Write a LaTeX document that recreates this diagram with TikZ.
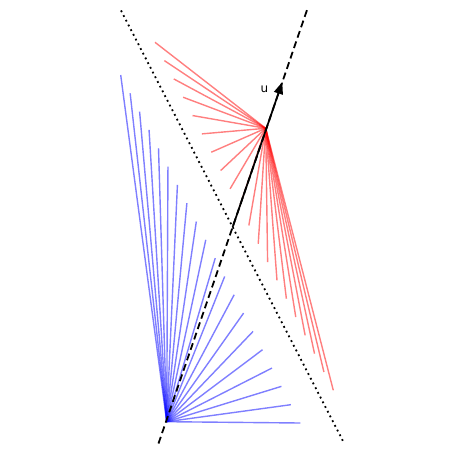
\documentclass[tikz,border=0pt]{standalone}
\usepackage{fontspec}
\setmainfont{DejaVu Sans}
\usetikzlibrary{arrows.meta}
\tikzset{
  bluefan/.style={draw=blue, opacity=0.5, line width=1.4pt},
  redfan/.style={draw=red, opacity=0.5, line width=1.4pt},
  dotline/.style={draw=black, line width=1.8pt, dash pattern=on 1.8pt off 3.5pt},
  dashline/.style={draw=black, line width=1.8pt, dash pattern=on 7pt off 4pt},
  vecline/.style={draw=black, line width=1.7pt, -{Triangle[length=12pt,width=9pt]}},
  lbl/.style={font=\fontsize{12}{14}\selectfont, inner sep=0pt}
}
\begin{document}
\begin{tikzpicture}[x=1pt,y=-1pt]
\useasboundingbox (0,0) rectangle (465,454);
\coordinate (B) at (166.7,421.7);
\coordinate (R) at (265.7,128.3);
\foreach \i in {0,...,19}{
  \coordinate (b\i) at ({120.7+9.453*\i},{75+18.316*\i});
  \coordinate (r\i) at ({155+9.384*\i},{42.3+18.316*\i});
}
\foreach \i in {0,...,19}{
  \draw[bluefan] (B) -- (b\i);
}
\foreach \i in {0,...,19}{
  \draw[redfan] (R) -- (r\i);
}
\coordinate (T1) at (121,10.5);
\coordinate (T2) at (344,443);
\draw[dotline] (T1) -- (T2);
\coordinate (D1) at (158.5,443.5);
\coordinate (D2) at (307,10);
\draw[dashline] (D1) -- (D2);
\coordinate (X) at (intersection of T1--T2 and D1--D2);
\coordinate (U) at (282.3,82);
\draw[vecline] (X) -- (U);
\node[lbl] (ulabel) at (264.3,89) {u};
\end{tikzpicture}
\end{document}
